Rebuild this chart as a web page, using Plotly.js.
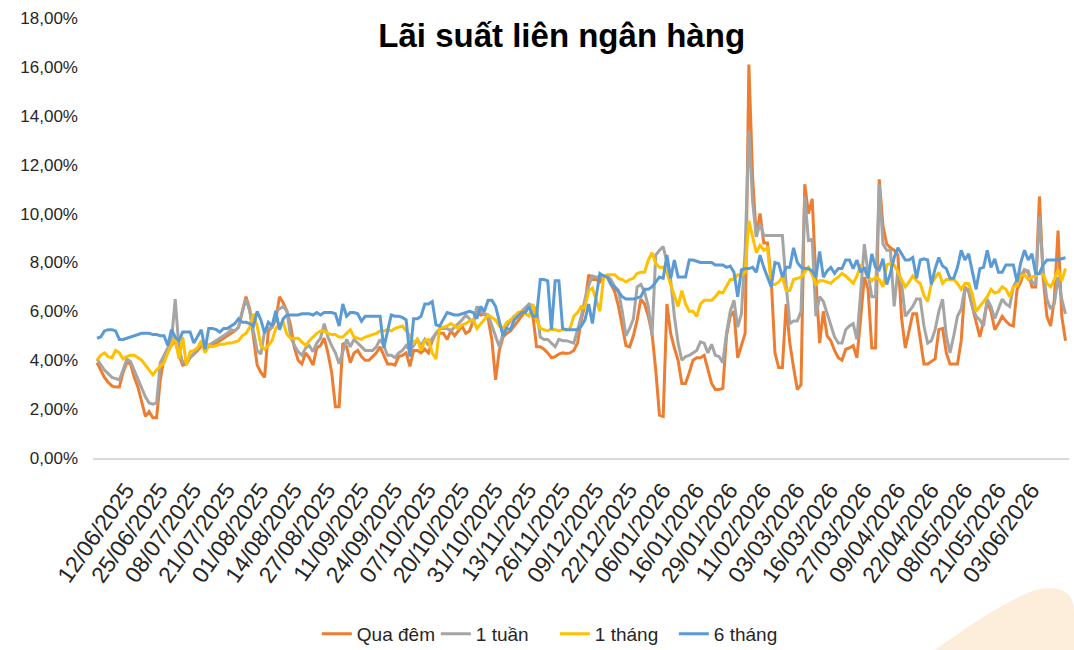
<!DOCTYPE html>
<html>
<head>
<meta charset="utf-8">
<script src="https://cdn.plot.ly/plotly-3.0.1.min.js"></script>
<style>
html,body{margin:0;padding:0;background:#fff;}
#chart{width:1074px;height:650px;}
</style>
</head>
<body>
<div id="chart"></div>
<script>
// Tick labels (one every 9 trading days)
const tickLabels = ["12/06/2025","25/06/2025","08/07/2025","21/07/2025","01/08/2025","14/08/2025","27/08/2025","11/09/2025","24/09/2025","07/10/2025","20/10/2025","31/10/2025","13/11/2025","26/11/2025","09/12/2025","22/12/2025","06/01/2026","16/01/2026","29/01/2026","11/02/2026","03/03/2026","16/03/2026","27/03/2026","09/04/2026","22/04/2026","08/05/2026","21/05/2026","03/06/2026"];
const tickStep = 9;

const seriesNames = ["Qua đêm", "1 tuần", "1 tháng", "6 tháng"];

// Qua đêm (%)
const quaDem = [
3.9,3.6,3.3,3.1,2.95,2.9,2.9,3.5,3.9,3.85,
3.3,2.9,2.3,1.7,1.9,1.65,1.65,3.2,4.1,4.4,
4.6,4.8,4.2,3.8,3.85,4.1,4.25,4.4,4.6,4.6,
4.55,4.65,4.7,4.8,4.9,5.0,5.1,5.2,5.35,6.0,
6.6,6.1,5.0,3.8,3.5,3.3,5.2,5.35,5.65,6.6,
6.35,6.0,5.4,4.5,4.0,3.85,4.3,4.1,3.8,4.5,
4.6,4.9,4.3,3.5,2.1,2.1,4.7,4.55,3.9,4.3,
4.4,4.15,4.0,4.0,4.15,4.3,4.55,4.2,3.85,3.85,
3.8,4.15,4.2,4.3,3.75,4.4,4.4,4.3,4.45,4.3,
4.8,5.1,5.1,5.1,4.85,5.2,5.0,5.2,5.4,5.1,
5.2,5.6,6.0,5.85,5.9,5.7,4.85,3.2,4.4,4.95,
5.1,5.2,5.4,5.65,5.85,6.0,6.2,5.85,4.55,4.55,
4.45,4.3,4.1,4.15,4.25,4.3,4.28,4.3,4.4,4.7,
5.64,6.3,7.5,7.3,7.3,7.2,7.45,7.4,7.1,6.8,
6.2,5.4,4.6,4.55,5.0,5.64,6.5,6.3,5.8,5.1,
3.6,1.75,1.7,6.3,5.1,4.5,4.0,3.05,3.05,3.5,
4.0,4.1,4.1,4.2,3.6,3.05,2.8,2.8,2.85,5.0,
5.8,6.0,4.1,4.6,5.1,16.1,11.5,9.05,10.0,8.8,
8.8,7.3,4.3,3.7,3.7,6.3,4.7,3.7,2.8,3.0,
11.2,10.0,10.6,7.3,4.7,6.0,5.0,4.8,4.4,4.1,
4.0,4.45,4.5,4.6,4.1,5.7,7.4,6.9,4.5,4.5,
11.4,9.5,8.75,8.6,8.5,8.3,5.7,4.5,5.2,5.9,
5.9,4.95,3.85,3.85,3.95,4.05,5.25,5.3,4.3,3.85,
3.85,3.85,4.8,7.0,6.8,6.2,5.6,4.95,5.6,6.4,
6.0,5.25,5.5,5.8,5.6,5.45,5.4,6.9,7.2,7.7,
7.6,7.0,7.0,10.7,7.4,5.8,5.4,6.5,9.3,5.8,4.8
];

// 1 tuần (%)
const motTuan = [
4.05,3.8,3.6,3.45,3.3,3.25,3.2,3.6,4.05,3.95,
3.6,3.2,2.9,2.5,2.25,2.2,2.25,3.9,4.2,4.5,
4.8,6.5,4.5,3.9,4.0,4.1,4.3,4.5,4.7,4.7,
4.6,4.7,4.8,4.9,5.0,5.1,5.25,5.2,5.35,6.0,
6.5,6.0,5.2,4.4,4.25,5.2,5.3,5.35,6.0,6.1,
6.2,6.0,4.95,4.6,4.35,4.2,4.5,4.6,4.35,4.7,
4.9,5.5,4.95,4.6,4.3,3.85,4.4,4.85,4.55,4.85,
4.7,4.55,4.4,4.4,4.4,4.55,4.85,4.6,4.2,4.2,
4.1,4.3,4.4,4.6,4.4,4.6,4.85,4.6,4.85,4.6,
4.9,5.1,5.3,5.3,5.3,5.2,5.35,5.5,5.65,5.85,
5.7,5.5,6.2,6.0,5.9,5.85,5.4,4.95,4.55,5.1,
5.4,5.6,5.8,5.9,6.0,6.15,6.3,6.2,6.1,4.95,
4.85,4.85,4.7,4.55,4.85,4.8,4.8,4.75,4.7,5.24,
5.8,6.5,7.05,7.45,7.4,7.4,7.45,7.45,7.3,7.0,
6.85,6.0,5.0,5.3,5.7,7.0,7.1,6.8,6.2,5.0,
8.3,8.5,8.65,8.0,7.3,5.8,4.7,4.0,4.15,4.2,
4.3,4.4,4.75,4.7,4.3,4.65,4.2,4.15,3.9,5.1,
6.0,6.45,5.35,5.9,8.5,13.4,10.5,9.05,9.6,9.1,
9.1,9.1,9.1,9.1,9.1,7.1,5.5,5.6,5.6,6.0,
10.7,8.9,8.95,5.8,6.6,6.4,5.9,5.5,4.95,4.7,
4.7,5.25,5.4,5.5,4.85,6.75,8.75,7.55,6.6,6.6,
11.2,8.75,8.5,8.5,6.2,7.7,7.14,5.8,6.0,6.2,
6.5,6.5,5.4,4.7,4.8,5.25,6.0,6.5,5.0,4.3,
5.0,5.8,6.1,6.95,6.9,6.2,5.8,5.65,5.4,6.5,
6.2,5.7,6.1,6.5,6.3,6.2,7.0,7.3,7.5,7.7,
7.65,7.2,7.1,9.87,7.7,6.5,6.1,6.3,7.4,6.5,5.9
];

// 1 tháng (%)
const motThang = [
4.0,4.2,4.3,4.15,4.1,4.4,4.3,4.05,4.15,4.2,
4.2,4.1,4.0,3.8,3.6,3.4,3.6,3.75,3.9,4.3,
4.6,4.95,4.05,4.95,3.8,4.35,4.4,4.5,4.8,4.3,
4.6,4.55,4.6,4.65,4.65,4.7,4.7,4.75,4.8,5.0,
5.1,5.35,5.9,5.4,4.6,4.45,4.6,4.8,5.3,5.5,
5.55,5.05,4.9,4.9,4.9,4.75,4.6,4.8,4.95,5.1,
5.2,5.2,5.1,5.05,5.05,4.95,4.95,5.1,5.25,4.95,
4.9,4.85,4.95,5.0,5.05,5.1,5.2,5.2,5.25,5.2,
5.3,5.35,5.4,5.2,5.0,4.7,4.85,4.4,4.8,4.85,
4.3,4.05,5.35,5.35,5.4,5.5,5.4,5.3,5.45,5.5,
5.6,5.65,5.3,5.5,5.7,5.85,5.75,5.65,5.4,5.3,
5.55,5.65,5.75,5.95,6.0,5.9,5.8,6.3,5.65,5.3,
5.25,5.2,5.3,5.25,5.2,5.25,5.25,5.3,5.8,5.95,
6.2,6.15,6.85,6.95,6.5,6.0,7.4,7.5,7.5,7.5,
7.35,7.3,7.2,7.3,7.35,7.55,7.6,7.6,8.1,8.4,
7.95,7.8,7.8,7.6,7.1,6.6,6.2,6.85,6.3,6.0,
6.0,5.8,6.3,6.45,6.45,6.45,6.6,6.8,6.75,7.0,
7.3,7.3,7.5,7.45,7.6,9.7,9.0,8.4,8.7,8.5,
8.6,7.1,7.1,7.2,7.4,6.85,6.85,7.3,7.35,7.4,
7.6,7.8,7.5,7.1,7.25,7.25,7.2,7.15,7.3,7.4,
7.55,7.45,7.3,7.14,7.45,7.85,7.7,7.4,7.25,7.4,
7.3,7.0,7.9,7.95,7.9,7.6,7.35,7.0,7.2,7.45,
7.25,7.14,6.65,6.4,7.14,7.35,7.6,7.14,7.3,7.3,
7.3,7.14,6.9,7.14,7.14,6.7,6.0,6.2,6.4,6.6,
6.9,6.75,6.8,7.0,6.9,6.6,7.0,7.05,7.45,7.5,
7.3,7.4,7.45,7.55,7.5,7.14,7.0,7.3,7.7,7.25,7.75
];

// 6 tháng (%)
const sauThang = [
4.9,4.95,5.2,5.25,5.25,5.2,4.85,4.85,4.9,4.95,
5.0,5.05,5.1,5.1,5.1,5.05,5.05,5.0,5.0,4.6,
5.25,4.95,4.8,5.15,5.15,5.15,4.7,5.0,5.25,4.45,
5.3,5.3,5.25,5.15,5.3,5.3,5.4,5.5,5.7,5.55,
5.55,5.5,5.4,6.0,5.65,5.1,5.55,5.4,6.0,5.25,
5.7,5.85,5.85,5.85,5.85,5.9,5.9,5.9,5.85,5.95,
5.85,5.95,5.95,5.95,5.9,5.4,6.3,5.8,5.95,5.95,
5.9,5.6,5.8,5.8,5.8,5.8,5.8,4.5,5.2,5.85,
5.8,5.8,5.75,5.65,4.15,5.7,5.7,5.8,6.3,6.3,
6.4,5.45,5.4,5.7,5.95,5.9,5.85,5.85,5.9,5.95,
6.0,5.95,5.7,6.2,6.0,6.45,6.45,6.2,5.6,5.0,
5.3,5.25,5.65,5.8,5.95,5.95,6.2,5.8,5.8,7.3,
7.3,7.25,5.25,7.25,7.25,5.3,5.25,5.25,5.25,5.25,
5.4,5.65,6.3,5.5,6.6,7.55,7.45,7.4,7.1,7.0,
6.8,6.6,6.5,6.5,6.5,6.55,6.6,6.9,6.9,7.0,
7.2,7.4,7.35,8.3,7.35,8.1,7.4,7.4,7.4,8.1,
8.1,8.05,8.0,8.0,8.0,8.0,7.9,7.9,7.9,7.8,
7.85,7.6,6.6,7.7,7.75,7.75,7.8,7.6,8.3,7.8,
7.4,7.0,8.0,7.95,7.4,7.8,7.8,8.6,8.0,7.8,
7.75,7.75,7.65,7.4,8.45,7.4,7.65,7.8,7.55,7.75,
7.75,8.1,8.1,7.75,8.1,7.6,7.8,7.35,8.35,7.8,
7.7,8.15,7.1,7.55,8.2,8.6,8.35,8.1,8.1,8.2,
7.35,8.1,8.15,8.1,7.1,7.75,8.2,7.85,7.75,7.35,
7.35,7.8,8.5,8.1,8.35,7.6,6.9,7.75,7.8,8.5,
7.8,8.15,7.6,7.6,7.9,7.9,7.9,7.2,8.0,8.5,
8.1,8.35,7.55,7.55,7.9,8.1,8.1,8.1,8.1,8.15,8.2
];

const seriesValues = [quaDem, motTuan, motThang, sauThang];
const seriesColors = ["#ED7D31", "#A5A5A5", "#FFC000", "#5B9BD5"];

const traces = seriesValues.map((vals, k) => ({
  type: "scatter",
  mode: "lines",
  name: seriesNames[k],
  y: vals,
  line: { color: seriesColors[k], width: 3 },
  hoverinfo: "skip"
}));

const tickVals = tickLabels.map((_, k) => k * tickStep);
const nPts = quaDem.length;

const layout = {
  width: 1074,
  height: 650,
  paper_bgcolor: "#ffffff",
  plot_bgcolor: "#ffffff",
  separators: ",.",
  margin: { l: 93, r: 5, t: 18, b: 192, autoexpand: false },
  font: { family: "Liberation Sans, Arial, sans-serif", color: "#262626" },
  title: {
    text: "<b>Lãi suất liên ngân hàng</b>",
    x: 0.523, xref: "container", xanchor: "center",
    y: 0.946, yref: "container", yanchor: "middle",
    font: { size: 33, color: "#000000", family: "Liberation Sans, Arial, sans-serif" }
  },
  xaxis: {
    range: [-1.07, nPts - 0.06],
    tickmode: "array",
    tickvals: tickVals,
    ticktext: tickLabels,
    tickangle: -55,
    ticks: "",
    showgrid: false,
    zeroline: false,
    showline: true,
    linecolor: "#d9d9d9",
    linewidth: 1.5,
    tickfont: { size: 23, color: "#262626" },
    ticklabelshift: 29,
    ticklabelstandoff: 8,
    automargin: false,
    fixedrange: true
  },
  yaxis: {
    range: [0, 18],
    dtick: 2,
    tick0: 0,
    tickformat: ".2f",
    ticksuffix: "%",
    ticks: "",
    showgrid: false,
    zeroline: false,
    showline: false,
    tickfont: { size: 17, color: "#262626" },
    ticklabelstandoff: 14,
    automargin: false,
    fixedrange: true
  },
  legend: {
    orientation: "h",
    xref: "container", x: 0.295, xanchor: "left",
    yref: "container", y: 0.0246, yanchor: "middle",
    font: { size: 19, color: "#262626" },
    bgcolor: "rgba(0,0,0,0)",
    itemwidth: 30,
    entrywidth: 74,
    traceorder: "normal"
  },
  shapes: [{
    type: "path",
    xref: "paper", yref: "paper",
    path: "M 0.8627,-0.4364 Q 0.925,-0.335 0.965,-0.300 Q 1.004,-0.282 1.0051,-0.345 L 1.0051,-0.4364 Z",
    fillcolor: "#FDEEDC",
    line: { width: 0 },
    layer: "below"
  }],
  showlegend: true
};

Plotly.newPlot("chart", traces, layout, { staticPlot: true, displayModeBar: false });
</script>
</body>
</html>
